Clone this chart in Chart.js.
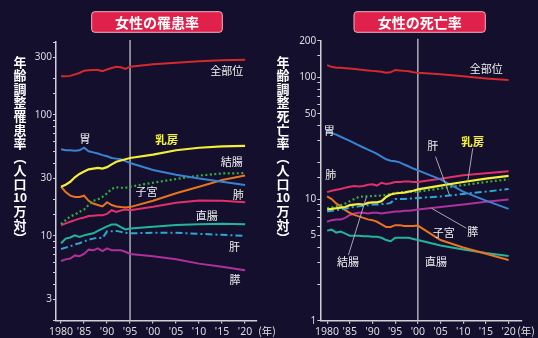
<!DOCTYPE html>
<html>
<head>
<meta charset="utf-8">
<script src="https://cdn.jsdelivr.net/npm/chart.js@4"></script>
<style>
  html, body { margin: 0; padding: 0; background: #130f2c; width: 538px; height: 338px; overflow: hidden; }
  canvas { position: absolute; top: 0; }
  #incChart { left: 0; }
  #morChart { left: 268px; }
</style>
</head>
<body>
<canvas id="incChart" width="280" height="338" style="width:280px;height:338px"></canvas>
<canvas id="morChart" width="270" height="338" style="width:270px;height:338px"></canvas>
<script>
// years: yearly up to the split line, then every 5 years
const yearsInc = [1980,1981,1982,1983,1984,1985,1986,1987,1988,1989,1990,1991,1992,1993,1994,1995,2000,2005,2010,2015,2020];
const yearsMor = [1980,1981,1982,1983,1984,1985,1986,1987,1988,1989,1990,1991,1992,1993,1994,1995,1996,1997,1998,1999,2000,2005,2010,2015,2020];

// 女性の罹患率 (per 100k, age adjusted)
const incAll      = [208,208,210,216,222,232,234,235,235,230,237,244,250,247,240,250,262,270,277,282,285];
const incStomach  = [52,51,51,50.5,51,53.5,50,49,48,46.5,45.5,44,43.5,43,41.5,40,35,32,29.8,28,26.3];
const incBreast   = [25.5,26.5,28,30.5,32.5,34,35.5,36,36.5,36,37,39,41,42,43,44,47,51,53.5,55,55.5];
const incUterus   = [25.5,23,21.5,21,21,21.5,19.5,18.5,18,17.5,19,18,17.5,17.3,17.2,17.3,19.5,22.5,25.5,29,31.5];
const incColon    = [12.5,13.5,14.5,15,15.8,16.5,18,19.5,20,21,22.5,24.5,25.2,25,25,25.5,27.5,29.5,31.5,32.8,33];
const incLung     = [12.2,12.7,13.1,13.5,13.9,14.2,14.6,14.7,14.8,14.8,15.2,16.3,15.8,16.2,16.5,16.3,17.4,18.8,19.6,19.5,19];
const incRectum   = [8.7,9.5,9.7,10.1,9.8,10.1,10.3,10.5,11,11.5,12,12.4,12.4,11.8,11.3,11.5,11.9,12.3,12.5,12.6,12.5];
const incLiver    = [7.8,8.0,8.2,8.5,8.7,9.0,9.3,9.5,9.7,9.6,10.9,10.9,11.0,10.8,10.6,10.5,10.6,10.6,10.4,10.2,10.0];
const incPancreas = [6.2,6.4,6.5,6.9,6.8,7.1,7.7,7.6,7.9,7.5,7.9,7.6,7.6,7.6,7.4,7.1,6.8,6.4,5.9,5.55,5.2];

// 女性の死亡率
const morAll      = [126,122,120,120,119,118,117,116,115,114,113,112,111,109,110,115,114,113,112,110,109,106,102,98,95];
const morStomach  = [36.5,35,33.8,32.5,31.2,30,28.8,27.6,26.5,25.5,24.5,23.5,22.3,21.2,20.6,20.4,20,19.2,18.5,17.8,17.2,14.5,11.5,9.7,8.3];
const morLung     = [11.4,11.7,11.9,12.1,12.4,12.6,12.8,12.7,12.8,13.1,13.2,12.9,13.6,13.3,13.5,13.8,13.8,13.9,13.9,13.8,13.8,14.7,15.7,16.3,16.9];
const morBreast   = [8.2,8.3,8.4,8.5,8.6,8.9,9.0,9.1,9.0,9.3,9.4,9.4,9.6,10.4,10.9,11.1,11.2,11.3,11.5,11.7,12.0,12.9,13.8,14.7,15.5];
const morColon    = [8.4,8.5,8.7,8.9,9.2,9.6,10.0,10.4,10.5,10.5,10.6,10.6,10.7,10.8,11.0,11.2,11.3,11.4,11.5,11.5,11.5,12.2,13.0,13.8,14.5];
const morLiver    = [7.9,8.0,8.1,8.2,8.3,8.5,8.6,8.7,8.8,8.9,9.0,9.0,9.1,9.1,9.3,10.0,10.0,10.0,10.1,10.1,10.2,10.5,11.0,11.5,12.1];
const morUterus   = [10.5,10.0,9.2,8.7,8.1,7.7,7.4,7.2,7.0,6.8,6.7,6.5,6.2,5.9,5.9,6.1,6.1,6.0,6.0,6.0,6.05,4.6,4.0,3.55,3.15];
const morPancreas = [6.5,6.7,6.8,6.8,7.0,7.4,7.6,7.7,7.7,7.6,7.7,7.7,7.6,7.7,7.8,7.9,7.9,8.0,8.0,8.1,8.2,8.6,9.0,9.5,9.9];
const morRectum   = [5.5,5.6,5.3,5.4,5.2,5.0,5.0,5.0,4.95,4.95,4.9,4.9,4.8,4.6,4.5,4.8,4.8,4.8,4.8,4.7,4.6,4.15,3.85,3.6,3.4];

const xTickYears = [1980,1985,1990,1995,2000,2005,2010,2015,2020];
const xTickLabels = ['1980',"'85","'90","'95","'00","'05","'10","'15","'20"];
const incTickLabels = [3,10,30,100,300];
const morTickLabels = [1,5,10,50,100,200];

// series labels: text, year, value
const incLabels = [
  ['全部位',2016.0,232],['胃',1985.2,64],['乳房',2003.0,62],['結腸',2017.1,41],['子宮',1998.6,23.2],
  ['肺',2018.5,21.8],['直腸',2011.7,14.6],['肝',2017.7,8.13],['膵',2017.8,4.32]
];
const morLabels = [
  ['全部位',2015.1,117],['胃',1980.5,36.4],['肺',1980.8,15.8],['肝',2003.3,27.3],['乳房',2012.1,29.6],
  ['子宮',2005.7,5.23],['膵',2012.1,5.4],['結腸',1984.6,3.06],['直腸',2004.0,3.06]
];
// leader lines: [year, value] -> [year, value]
const morLeaders = [
  [[2003.9,22.3],[2007.0,10.7]],
  [[2012.1,26.1],[2011.0,14.0]],
  [[2010.7,5.75],[2003.0,8.4]],
  [[1984.7,3.47],[1988.7,10.5]]
];

const COL = {
  all: '#d42a2e', stomach: '#3a82d2', breast: '#f2ee3a', colon: '#34ae3e', uterus: '#e8741f',
  lung: '#e2306a', rectum: '#22b49c', liver: '#2ea6d6', pancreas: '#b0309c'
};

function line(label, years, vals, color, dash, width) {
  return {
    label: label,
    data: years.map((x, i) => ({ x: x, y: vals[i] })),
    borderColor: color,
    borderWidth: width || 2,
    borderDash: dash || [],
    pointRadius: 0,
    tension: 0,
    fill: false
  };
}

const vTitleIncidence = ['年','齢','調','整','罹','患','率','︵','人','口','10','万','対','︶'];
const vTitleMortality = ['年','齢','調','整','死','亡','率','︵','人','口','10','万','対','︶'];

function makeDecor(cfg) {
  return {
    id: 'decor',
    beforeDatasetsDraw(chart) {
      const { ctx, chartArea: a, scales: { x } } = chart;
      const px = x.getPixelForValue(cfg.splitYear);
      ctx.save();
      ctx.strokeStyle = '#c6c6ce';
      ctx.lineWidth = 1.3;
      ctx.beginPath();
      ctx.moveTo(px, a.top - 2);
      ctx.lineTo(px, a.bottom);
      ctx.stroke();
      ctx.restore();
    },
    afterDraw(chart) {
      const { ctx, scales: { x, y } } = chart;
      ctx.save();
      // title box
      const b = cfg.box;
      ctx.fillStyle = '#e0214b';
      ctx.strokeStyle = '#f3b3c2';
      ctx.lineWidth = 1;
      ctx.beginPath();
      ctx.roundRect(b[0], b[1], b[2], b[3], 3);
      ctx.fill();
      ctx.stroke();
      ctx.fillStyle = '#ffffff';
      ctx.font = 'bold 14px "Noto Sans CJK JP"';
      ctx.textAlign = 'center';
      ctx.textBaseline = 'middle';
      ctx.fillText(cfg.title, b[0] + b[2] / 2, b[1] + b[3] / 2 + 0.5);

      // vertical axis title
      cfg.vTitle.forEach((c, i) => {
        ctx.font = c === '10' ? 'bold 12px "Noto Sans CJK JP"' : 'bold 13px "Noto Sans CJK JP"';
        ctx.fillText(c, cfg.vTitleX, 61.7 + i * 13.6);
      });

      // (年)
      ctx.fillStyle = '#e2e2e6';
      ctx.font = '10.5px "Noto Sans CJK JP"';
      ctx.fillText('(年)', cfg.yearX, 331);

      // leader lines
      ctx.strokeStyle = '#a8a8b2';
      ctx.lineWidth = 1;
      (cfg.leaders || []).forEach(l => {
        ctx.beginPath();
        ctx.moveTo(x.getPixelForValue(l[0][0]), y.getPixelForValue(l[0][1]));
        ctx.lineTo(x.getPixelForValue(l[1][0]), y.getPixelForValue(l[1][1]));
        ctx.stroke();
      });

      // series labels
      cfg.labels.forEach(l => {
        const isBreast = l[0] === '乳房';
        ctx.font = isBreast ? 'bold 11.5px "Noto Sans CJK JP"' : '11px "Noto Sans CJK JP"';
        ctx.fillStyle = isBreast ? '#f4f04a' : '#f0f0f2';
        ctx.fillText(l[0], x.getPixelForValue(l[1]), y.getPixelForValue(l[2]));
      });
      ctx.restore();
    }
  };
}

Chart.defaults.font.family = '"Noto Sans", sans-serif';
Chart.defaults.color = '#dcdce2';

function makeChart(id, cfg) {
  const axisColor = '#cfcfd6';
  return new Chart(document.getElementById(id), {
    type: 'line',
    data: { datasets: cfg.datasets },
    options: {
      responsive: false,
      animation: false,
      layout: { padding: cfg.padding },
      plugins: { legend: { display: false }, tooltip: { enabled: false } },
      scales: {
        x: {
          type: 'linear',
          min: cfg.xMin,
          max: cfg.xMax,
          afterBuildTicks: s => { s.ticks = xTickYears.map(v => ({ value: v })); },
          afterFit: s => { s.height = cfg.xHeight; },
          border: { color: axisColor, width: 1.5 },
          grid: { drawOnChartArea: false, drawTicks: true, tickLength: 3, color: axisColor, lineWidth: 1.2 },
          ticks: {
            autoSkip: false, maxRotation: 0, padding: 2,
            font: { size: 10.5 },
            callback: v => xTickLabels[xTickYears.indexOf(v)]
          }
        },
        y: {
          type: 'logarithmic',
          min: cfg.yMin,
          max: cfg.yMax,
          afterFit: s => { s.width = cfg.yWidth; },
          border: { color: axisColor, width: 1.5 },
          grid: { drawOnChartArea: false, drawTicks: true, tickLength: 3, color: axisColor, lineWidth: 1 },
          ticks: {
            autoSkip: false, padding: 1,
            font: { size: 10 },
            callback: v => cfg.tickLabels.includes(v) ? String(v) : ''
          }
        }
      }
    },
    plugins: [makeDecor(cfg)]
  });
}

makeChart('incChart', {
  datasets: [
    line('全部位', yearsInc, incAll, COL.all),
    line('乳房', yearsInc, incBreast, COL.breast, null, 2.2),
    line('胃', yearsInc, incStomach, COL.stomach),
    line('結腸', yearsInc, incColon, COL.colon, [2, 2.5], 2.2),
    line('子宮', yearsInc, incUterus, COL.uterus),
    line('肺', yearsInc, incLung, COL.lung),
    line('直腸', yearsInc, incRectum, COL.rectum),
    line('肝', yearsInc, incLiver, COL.liver, [7, 3, 2, 3]),
    line('膵', yearsInc, incPancreas, COL.pancreas)
  ],
  padding: { left: 0, top: 42, right: 23, bottom: 0 },
  xMin: 1978.9, xMax: 2022.6, xHeight: 17.5,
  yMin: 2, yMax: 400, yWidth: 56,
  tickLabels: incTickLabels,
  splitYear: 1995,
  title: '女性の罹患率',
  box: [91.7, 11.7, 130.6, 20.6],
  vTitle: vTitleIncidence, vTitleX: 20,
  yearX: 267,
  labels: incLabels
});

makeChart('morChart', {
  datasets: [
    line('全部位', yearsMor, morAll, COL.all),
    line('乳房', yearsMor, morBreast, COL.breast, null, 2.2),
    line('胃', yearsMor, morStomach, COL.stomach),
    line('肺', yearsMor, morLung, COL.lung),
    line('結腸', yearsMor, morColon, COL.colon, [2, 2.5], 2.2),
    line('肝', yearsMor, morLiver, COL.liver, [7, 3, 2, 3]),
    line('子宮', yearsMor, morUterus, COL.uterus),
    line('膵', yearsMor, morPancreas, COL.pancreas),
    line('直腸', yearsMor, morRectum, COL.rectum)
  ],
  padding: { left: 0, top: 40.7, right: 16.7, bottom: 0 },
  xMin: 1978.5, xMax: 2022.8, xHeight: 17.3,
  yMin: 1, yMax: 200, yWidth: 52.3,
  tickLabels: morTickLabels,
  splitYear: 2000,
  title: '女性の死亡率',
  box: [86, 11.7, 131.3, 20.6],
  vTitle: vTitleMortality, vTitleX: 15,
  yearX: 258,
  labels: morLabels,
  leaders: morLeaders
});
</script>
</body>
</html>
